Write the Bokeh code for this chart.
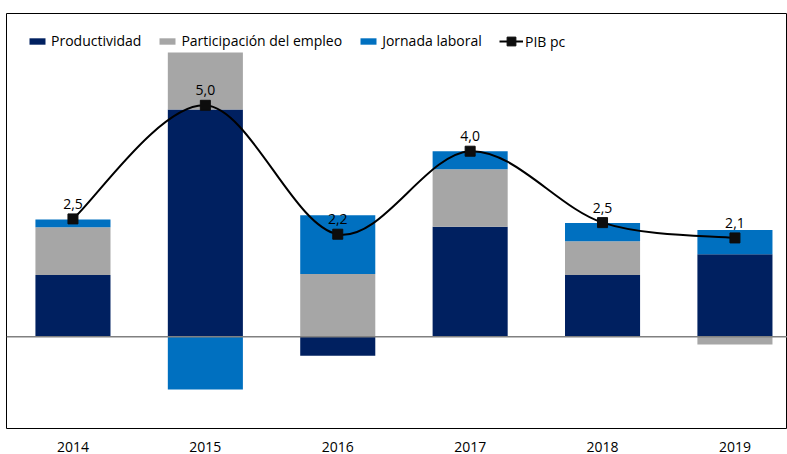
import numpy as np
from bokeh.plotting import figure
from bokeh.models import (ColumnDataSource, Span, FixedTicker, Range1d, LegendItem, Legend)
from bokeh.core.properties import value
from bokeh.embed import file_html
from bokeh.resources import INLINE

years = ["2014", "2015", "2016", "2017", "2018", "2019"]
productividad = [1.33, 4.90, -0.41, 2.37, 1.33, 1.78]
participacion = [1.03, 1.23, 1.35, 1.24, 0.73, -0.17]
jornada = [0.17, -1.14, 1.27, 0.39, 0.39, 0.52]
pib_pc = [2.54, 4.99, 2.21, 4.00, 2.46, 2.13]
pib_labels = ["2,5", "5,0", "2,2", "4,0", "2,5", "2,1"]

series = [("Productividad", productividad, "#002060"),
          ("Participación del empleo", participacion, "#A6A6A6"),
          ("Jornada laboral", jornada, "#0070C0")]

FONT = "Open Sans"
FS = "14px"
x = np.arange(len(years), dtype=float)

p = figure(width=787, height=454, output_backend="svg", toolbar_location=None,
           x_range=Range1d(-0.502, 5.397), y_range=Range1d(-1.98, 6.97),
           min_border_left=6, min_border_right=0, min_border_top=13, min_border_bottom=25)
p.extra_y_ranges = {"legend_only": Range1d(start=1000, end=1001)}
p.yaxis.visible = False
p.xgrid.visible = False
p.ygrid.visible = False
p.outline_line_color = "#000000"
p.outline_line_width = 1
p.background_fill_color = "white"
p.border_fill_color = "white"

items = []
pos_base = np.zeros(len(years))
neg_base = np.zeros(len(years))
for name, vals, color in series:
    v = np.array(vals, dtype=float)
    bottom = np.where(v >= 0, pos_base, neg_base)
    top = bottom + v
    src = ColumnDataSource(dict(x=x, bottom=bottom, top=top))
    r = p.vbar(x="x", bottom="bottom", top="top", width=0.567, source=src,
               fill_color=color, line_color=None)
    items.append(LegendItem(label=name, renderers=[r]))
    pos_base = np.where(v >= 0, top, pos_base)
    neg_base = np.where(v < 0, top, neg_base)

p.add_layout(Span(location=0, dimension="width", line_color="#808080", line_width=1.5))

# smooth curve through the PIB points using bezier segments (Catmull-Rom control points)
y = np.array(pib_pc, dtype=float)
n = len(x)
xp = np.concatenate([[x[0]], x, [x[-1]]])
yp = np.concatenate([[y[0]], y, [y[-1]]])
x0 = x[:-1]; y0 = y[:-1]; x1 = x[1:]; y1 = y[1:]
cx0 = x0 + (xp[2:n + 1] - xp[0:n - 1]) / 6.0
cy0 = y0 + (yp[2:n + 1] - yp[0:n - 1]) / 6.0
cx1 = x1 - (xp[3:n + 2] - xp[1:n]) / 6.0
cy1 = y1 - (yp[3:n + 2] - yp[1:n]) / 6.0
bsrc = ColumnDataSource(dict(x0=x0, y0=y0, x1=x1, y1=y1, cx0=cx0, cy0=cy0, cx1=cx1, cy1=cy1))
p.bezier(x0="x0", y0="y0", x1="x1", y1="y1", cx0="cx0", cy0="cy0", cx1="cx1", cy1="cy1",
         source=bsrc, line_color="#000000", line_width=2)

psrc = ColumnDataSource(dict(x=x, y=y, lab=pib_labels))
# line used only for the legend swatch (plotted on an off-screen range)
lr = p.line(x="x", y="y", source=psrc, y_range_name="legend_only",
            line_color="#000000", line_width=2)
sr = p.scatter(x="x", y="y", source=psrc, marker="square", size=10, fill_color="#0d0d0d",
               line_color="#0d0d0d")
p.text(x="x", y="y", text="lab", source=psrc, text_align="center", text_baseline="middle",
       y_offset=-15, text_font=value(FONT), text_font_size=FS, text_color="#000000")

common = dict(orientation="horizontal", margin=0, padding=0,
              label_text_font=FONT, label_text_font_size=FS,
              label_text_color="#000000", border_line_color=None,
              background_fill_alpha=0)
legend1 = Legend(items=items, location=(21, 378), spacing=16, label_standoff=4,
                 glyph_width=20, glyph_height=8, label_height=14, **common)
p.add_layout(legend1, "center")
legend2 = Legend(items=[LegendItem(label="PIB pc", renderers=[lr, sr])],
                 location=(493, 376), spacing=0, label_standoff=2,
                 glyph_width=24, glyph_height=22, label_height=14, **common)
p.add_layout(legend2, "center")

p.xaxis.ticker = FixedTicker(ticks=list(x))
p.xaxis.major_label_overrides = {i: yr for i, yr in enumerate(years)}
p.xaxis.axis_line_color = None
p.xaxis.major_tick_line_color = None
p.xaxis.minor_tick_line_color = None
p.xaxis.major_label_standoff = 7
p.xaxis.major_label_text_font = FONT
p.xaxis.major_label_text_font_size = FS
p.xaxis.major_label_text_color = "#000000"

open("out.html", "w").write(file_html(p, INLINE))
